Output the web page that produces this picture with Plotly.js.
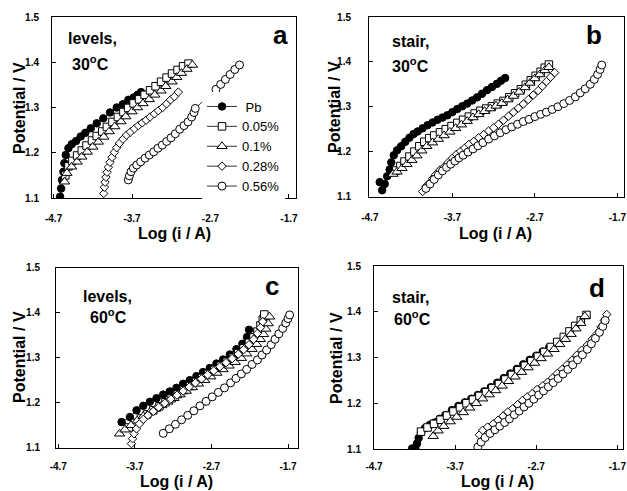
<!DOCTYPE html>
<html><head><meta charset="utf-8">
<script src="https://cdn.plot.ly/plotly-3.0.1.min.js"></script>
<style>html,body{margin:0;padding:0;background:#fff}#chart{width:627px;height:491px}</style>
</head><body><div id="chart"></div>
<script>
// ---------- shared labels ----------
const seriesNames = ['\u00a0Pb', '0.05%', '0.1%', '0.28%', '0.56%'];
const xTickVals = [-4.7, -3.7, -2.7, -1.7];
const xTickText = ['-4.7', '-3.7', '-2.7', '-1.7'];
const yTickVals = [1.1, 1.2, 1.3, 1.4, 1.5];
const yTickText = ['1.1', '1.2', '1.3', '1.4', '1.5'];
const xTitle = 'Log (i / A)';
const yTitle = 'Potential / V';
const panelLetters = ['a', 'b', 'c', 'd'];
const panelMode = ['levels,', 'stair,', 'levels,', 'stair,'];
const panelTemp = ['30<sup>o</sup>C', '30<sup>o</sup>C', '60<sup>o</sup>C', '60<sup>o</sup>C'];

// ---------- panel a : levels, 30 C ----------
const aPbX = [-4.617,-4.604,-4.592,-4.575,-4.562,-4.545,-4.511,-4.468,-4.413,-4.354,-4.295,-4.226,-4.150,-4.066,-3.980,-3.895,-3.818,-3.747,-3.680,-3.630,-3.585];
const aPbY = [1.103,1.121,1.140,1.158,1.177,1.195,1.210,1.219,1.226,1.236,1.244,1.254,1.265,1.276,1.289,1.300,1.307,1.317,1.322,1.328,1.334];
const a005X = [-4.55,-4.51,-4.46,-4.40,-4.34,-4.28,-4.21,-4.15,-4.08,-4.02,-3.95,-3.88,-3.81,-3.75,-3.68,-3.61,-3.54,-3.47,-3.40,-3.33,-3.26,-3.19,-3.12,-3.05,-2.98];
const a005Y = [1.150,1.170,1.182,1.194,1.205,1.216,1.227,1.237,1.247,1.257,1.268,1.279,1.290,1.299,1.309,1.318,1.328,1.338,1.347,1.357,1.366,1.375,1.383,1.391,1.397];
const a01X = [-4.56,-4.53,-4.47,-4.40,-4.34,-4.27,-4.20,-4.13,-4.06,-3.99,-3.92,-3.84,-3.78,-3.70,-3.63,-3.56,-3.48,-3.41,-3.33,-3.27,-3.19,-3.13,-3.07,-3.00,-2.93];
const a01Y = [1.136,1.155,1.169,1.180,1.191,1.202,1.213,1.224,1.235,1.247,1.258,1.269,1.280,1.291,1.300,1.309,1.318,1.328,1.337,1.347,1.357,1.367,1.376,1.385,1.394];
const a028X = [-4.061,-4.052,-4.044,-4.032,-4.019,-4.002,-3.981,-3.955,-3.925,-3.896,-3.860,-3.815,-3.770,-3.720,-3.670,-3.620,-3.570,-3.520,-3.470,-3.415,-3.365,-3.310,-3.260,-3.210,-3.160,-3.110];
const a028Y = [1.110,1.124,1.135,1.146,1.157,1.168,1.179,1.190,1.201,1.211,1.221,1.230,1.239,1.246,1.253,1.260,1.266,1.272,1.279,1.286,1.293,1.300,1.308,1.317,1.324,1.334];
const a056X = [-3.747,-3.734,-3.713,-3.683,-3.640,-3.590,-3.534,-3.480,-3.424,-3.370,-3.314,-3.258,-3.203,-3.148,-3.092,-3.038,-2.987,-2.940,-2.910,-2.894,-2.63,-2.57,-2.51,-2.45,-2.39,-2.33];
const a056Y = [1.140,1.149,1.158,1.166,1.173,1.180,1.188,1.195,1.202,1.210,1.217,1.225,1.233,1.242,1.252,1.260,1.268,1.279,1.289,1.298,1.340,1.351,1.362,1.373,1.384,1.394];

// ---------- panel b : stair, 30 C ----------
const bPbX = [-4.58,-4.55,-4.52,-4.49,-4.46,-4.44,-4.41,-4.37,-4.32,-4.27,-4.22,-4.17,-4.12,-4.06,-4.00,-3.94,-3.88,-3.82,-3.76,-3.70,-3.64,-3.58,-3.52,-3.46,-3.40,-3.34,-3.28,-3.22,-3.16,-3.11,-3.06];
const bPbY = [1.132,1.114,1.128,1.145,1.160,1.176,1.192,1.203,1.212,1.222,1.231,1.239,1.245,1.252,1.259,1.265,1.271,1.276,1.281,1.288,1.295,1.301,1.307,1.314,1.321,1.329,1.337,1.344,1.351,1.358,1.364];
const b005X = [-4.38,-4.33,-4.28,-4.22,-4.16,-4.10,-4.04,-3.98,-3.92,-3.85,-3.78,-3.71,-3.64,-3.57,-3.50,-3.43,-3.36,-3.29,-3.22,-3.15,-3.08,-3.01,-2.94,-2.87,-2.81,-2.75,-2.69,-2.63,-2.58,-2.53];
const b005Y = [1.158,1.168,1.178,1.189,1.200,1.212,1.222,1.230,1.236,1.243,1.250,1.257,1.264,1.271,1.278,1.285,1.291,1.296,1.301,1.307,1.313,1.321,1.330,1.339,1.349,1.359,1.369,1.378,1.387,1.394];
const b01X = [-4.42,-4.37,-4.31,-4.25,-4.19,-4.13,-4.07,-4.01,-3.94,-3.87,-3.80,-3.73,-3.66,-3.59,-3.52,-3.45,-3.38,-3.31,-3.24,-3.17,-3.10,-3.03,-2.96,-2.89,-2.82,-2.76,-2.70,-2.64,-2.58,-2.53];
const b01Y = [1.150,1.155,1.163,1.172,1.181,1.191,1.202,1.212,1.220,1.228,1.236,1.244,1.252,1.260,1.268,1.276,1.283,1.290,1.296,1.302,1.308,1.316,1.324,1.333,1.343,1.353,1.363,1.372,1.381,1.388];
const b028X = [-4.06,-4.02,-3.98,-3.94,-3.90,-3.85,-3.80,-3.75,-3.70,-3.65,-3.60,-3.55,-3.50,-3.44,-3.38,-3.32,-3.26,-3.20,-3.14,-3.08,-3.02,-2.96,-2.90,-2.84,-2.78,-2.72,-2.66,-2.61,-2.56,-2.51,-2.46];
const b028Y = [1.111,1.122,1.129,1.140,1.149,1.159,1.166,1.176,1.185,1.194,1.201,1.208,1.216,1.223,1.231,1.238,1.246,1.253,1.261,1.270,1.279,1.288,1.297,1.306,1.316,1.326,1.336,1.346,1.356,1.366,1.376];
const b056X = [-4.02,-3.97,-3.92,-3.87,-3.82,-3.77,-3.72,-3.67,-3.62,-3.57,-3.51,-3.45,-3.39,-3.33,-3.26,-3.19,-3.12,-3.05,-2.98,-2.91,-2.84,-2.77,-2.70,-2.63,-2.56,-2.49,-2.42,-2.35,-2.28,-2.21,-2.15,-2.09,-2.03,-1.98,-1.94,-1.91,-1.89];
const b056Y = [1.118,1.128,1.138,1.148,1.157,1.165,1.172,1.179,1.186,1.192,1.199,1.206,1.213,1.220,1.228,1.235,1.242,1.249,1.255,1.261,1.267,1.272,1.278,1.283,1.288,1.294,1.300,1.307,1.314,1.322,1.331,1.340,1.350,1.361,1.372,1.383,1.393];

// ---------- panel c : levels, 60 C ----------
const cPbX = [-3.873,-3.765,-3.678,-3.590,-3.504,-3.417,-3.330,-3.244,-3.157,-3.070,-2.983,-2.896,-2.810,-2.722,-2.635,-2.548,-2.460,-2.374,-2.296,-2.236,-2.210];
const cPbY = [1.157,1.168,1.183,1.193,1.202,1.210,1.218,1.225,1.233,1.242,1.250,1.259,1.268,1.277,1.287,1.296,1.307,1.319,1.331,1.346,1.362];
const c005X = [-3.78,-3.70,-3.62,-3.54,-3.46,-3.38,-3.30,-3.22,-3.14,-3.06,-2.98,-2.90,-2.82,-2.74,-2.66,-2.58,-2.50,-2.42,-2.35,-2.28,-2.21,-2.15,-2.10,-2.06,-2.03,-2.01];
const c005Y = [1.145,1.155,1.165,1.174,1.183,1.192,1.201,1.210,1.219,1.228,1.237,1.246,1.255,1.264,1.273,1.282,1.291,1.300,1.310,1.321,1.333,1.345,1.358,1.372,1.385,1.396];
const c01X = [-3.90,-3.83,-3.75,-3.67,-3.59,-3.51,-3.43,-3.35,-3.27,-3.19,-3.11,-3.03,-2.95,-2.87,-2.79,-2.71,-2.63,-2.55,-2.47,-2.39,-2.31,-2.24,-2.17,-2.11,-2.06,-2.02,-1.99,-1.96,-1.94];
const c01Y = [1.131,1.140,1.150,1.160,1.170,1.178,1.186,1.194,1.202,1.210,1.218,1.226,1.234,1.242,1.250,1.258,1.266,1.274,1.282,1.290,1.299,1.309,1.319,1.330,1.341,1.352,1.364,1.376,1.391];
const c028X = [-3.745,-3.73,-3.71,-3.68,-3.64,-3.59,-3.53,-3.46,-3.39,-3.31,-3.23,-3.15,-3.07,-2.99,-2.91,-2.83,-2.75,-2.67,-2.59,-2.51,-2.43,-2.35,-2.28,-2.21,-2.15,-2.10,-2.06,-2.03];
const c028Y = [1.109,1.120,1.131,1.142,1.153,1.163,1.172,1.181,1.190,1.199,1.208,1.217,1.226,1.235,1.244,1.253,1.262,1.271,1.280,1.289,1.298,1.308,1.318,1.329,1.341,1.354,1.367,1.380];
const c056X = [-3.33,-3.25,-3.17,-3.09,-3.01,-2.93,-2.85,-2.77,-2.69,-2.61,-2.53,-2.45,-2.38,-2.31,-2.24,-2.17,-2.10,-2.04,-1.98,-1.92,-1.87,-1.82,-1.77,-1.73,-1.70,-1.68];
const c056Y = [1.132,1.142,1.152,1.162,1.172,1.182,1.193,1.203,1.213,1.223,1.233,1.244,1.254,1.264,1.274,1.285,1.295,1.306,1.317,1.329,1.341,1.353,1.365,1.377,1.387,1.395];

// ---------- panel d : stair, 60 C ----------
const dPbX = [-4.23,-4.19,-4.17,-4.15,-4.12,-4.07,-4.01,-3.95,-3.89,-3.82,-3.74,-3.66,-3.58,-3.50,-3.42,-3.34,-3.26,-3.18,-3.10,-3.02,-2.94,-2.86,-2.78,-2.70,-2.62,-2.54];
const dPbY = [1.101,1.102,1.112,1.124,1.136,1.146,1.153,1.158,1.166,1.174,1.185,1.194,1.202,1.210,1.218,1.226,1.235,1.245,1.255,1.265,1.275,1.285,1.295,1.304,1.313,1.322];
const d005X = [-4.12,-4.04,-3.96,-3.88,-3.80,-3.72,-3.64,-3.56,-3.48,-3.40,-3.32,-3.24,-3.16,-3.08,-3.00,-2.92,-2.84,-2.76,-2.68,-2.60,-2.52,-2.44,-2.36,-2.29,-2.22,-2.15,-2.08];
const d005Y = [1.138,1.147,1.155,1.164,1.173,1.182,1.191,1.200,1.208,1.216,1.224,1.233,1.242,1.252,1.262,1.272,1.282,1.292,1.302,1.312,1.323,1.334,1.345,1.357,1.369,1.381,1.393];
const d01X = [-3.97,-3.91,-3.84,-3.76,-3.68,-3.60,-3.52,-3.44,-3.36,-3.28,-3.20,-3.12,-3.04,-2.96,-2.88,-2.80,-2.72,-2.64,-2.56,-2.48,-2.41,-2.34,-2.27,-2.21,-2.15,-2.10];
const d01Y = [1.128,1.140,1.150,1.160,1.170,1.180,1.190,1.200,1.210,1.219,1.228,1.238,1.248,1.258,1.268,1.278,1.288,1.298,1.308,1.318,1.329,1.340,1.351,1.363,1.375,1.390];
const d028X = [-3.40,-3.36,-3.30,-3.23,-3.17,-3.11,-3.05,-2.99,-2.93,-2.87,-2.81,-2.75,-2.69,-2.62,-2.56,-2.50,-2.44,-2.38,-2.32,-2.26,-2.20,-2.14,-2.07,-2.01,-1.95,-1.90,-1.86,-1.83];
const d028Y = [1.131,1.141,1.148,1.155,1.163,1.172,1.181,1.188,1.197,1.206,1.214,1.221,1.230,1.238,1.246,1.255,1.265,1.274,1.284,1.294,1.305,1.316,1.327,1.340,1.352,1.367,1.381,1.394];
const d056X = [-3.42,-3.38,-3.33,-3.27,-3.21,-3.15,-3.09,-3.03,-2.97,-2.91,-2.85,-2.79,-2.73,-2.67,-2.61,-2.55,-2.49,-2.43,-2.37,-2.31,-2.25,-2.19,-2.13,-2.07,-2.02,-1.97,-1.92,-1.88,-1.85];
const d056Y = [1.104,1.115,1.125,1.134,1.142,1.150,1.158,1.166,1.175,1.183,1.192,1.200,1.209,1.218,1.227,1.236,1.245,1.254,1.264,1.274,1.284,1.295,1.306,1.318,1.330,1.342,1.355,1.368,1.381];

// ---------- styling ----------
const W = 627, H = 491;
const FONT = 'Arial, "Liberation Sans", sans-serif';
const symbols = ['circle', 'square', 'triangle-up', 'diamond', 'circle'];
const fills = ['black', 'white', 'white', 'white', 'white'];
const msizes = [7.5, 7.5, 9, 6.5, 8];

const panels = [
  {xs: [aPbX, a005X, a01X, a028X, a056X], ys: [aPbY, a005Y, a01Y, a028Y, a056Y], xa: 'x', ya: 'y', leg: true},
  {xs: [bPbX, b005X, b01X, b028X, b056X], ys: [bPbY, b005Y, b01Y, b028Y, b056Y], xa: 'x2', ya: 'y2', leg: false},
  {xs: [cPbX, c005X, c01X, c028X, c056X], ys: [cPbY, c005Y, c01Y, c028Y, c056Y], xa: 'x3', ya: 'y3', leg: false},
  {xs: [dPbX, d005X, d01X, d028X, d056X], ys: [dPbY, d005Y, d01Y, d028Y, d056Y], xa: 'x4', ya: 'y4', leg: false}
];

const traces = [];
panels.forEach(p => {
  for (let i = 0; i < 5; i++) {
    traces.push({
      type: 'scatter', mode: 'lines+markers',
      x: p.xs[i], y: p.ys[i], xaxis: p.xa, yaxis: p.ya,
      name: seriesNames[i], showlegend: p.leg,
      line: {color: 'black', width: 0.8},
      marker: {symbol: symbols[i], size: msizes[i], color: fills[i], line: {color: 'black', width: 1}}
    });
  }
});

// pixel boxes of the four plot areas [left, right, top, bottom]
const boxes = [[52, 296, 17, 198], [369, 624, 17, 196.5], [56, 298, 267.7, 447.7], [374, 623, 266, 449]];
const xRanges = [[-4.72, -1.61], [-4.71, -1.62], [-4.73, -1.57], [-4.70, -1.63]];
const yStand = [10, 15, 13, 10];
const xStand = [11, 11, 9, 8];

function px(x) { return x / W; }
function py(y) { return 1 - y / H; }

const layout = {
  width: W, height: H, margin: {l: 0, r: 0, t: 0, b: 0},
  paper_bgcolor: 'white', plot_bgcolor: 'white', showlegend: true,
  font: {family: FONT, color: 'black'},
  legend: {x: px(202), y: py(91.5), xanchor: 'left', yanchor: 'top', bgcolor: 'white', borderwidth: 0,
           font: {family: FONT, size: 13, color: 'black'}, tracegroupgap: 0, itemwidth: 30},
  annotations: [], hovermode: false
};

const tickFont = {family: FONT, size: 10, color: 'black', weight: 'bold'};
boxes.forEach((b, k) => {
  const s = k === 0 ? '' : String(k + 1);
  layout['xaxis' + s] = {
    domain: [px(b[0]), px(b[1])], range: xRanges[k], anchor: 'y' + s,
    showgrid: false, zeroline: false, showline: true, linecolor: 'black', linewidth: 1, mirror: true,
    ticks: 'inside', ticklen: 4, tickcolor: 'black', tickvals: xTickVals, ticktext: xTickText,
    tickfont: tickFont, ticklabelstandoff: xStand[k], ticklabeloverflow: 'allow', fixedrange: true
  };
  layout['yaxis' + s] = {
    domain: [py(b[3]), py(b[2])], range: [1.1, 1.5], anchor: 'x' + s,
    showgrid: false, zeroline: false, showline: true, linecolor: 'black', linewidth: 1, mirror: true,
    ticks: 'inside', ticklen: 4, tickcolor: 'black', tickvals: yTickVals, ticktext: yTickText,
    tickfont: tickFont, ticklabelstandoff: yStand[k], ticklabeloverflow: 'allow', fixedrange: true
  };
});

// text positions (pixels)
const xTitlePos = [[174, 233], [495, 233], [176, 481], [497, 481]];
const yTitlePos = [[20, 108], [334, 107], [19, 357], [336, 358]];
const modePos = [[92, 38], [410, 41], [107, 296], [410, 297]];
const tempPos = [[90, 63], [410, 65], [108, 316], [412, 318]];
const letterPos = [[280, 35], [594, 35], [272, 286], [597, 288]];

const bold16 = {family: FONT, size: 16, color: 'black', weight: 'bold'};
for (let k = 0; k < 4; k++) {
  layout.annotations.push({xref: 'paper', yref: 'paper', x: px(xTitlePos[k][0]), y: py(xTitlePos[k][1]),
    text: xTitle, showarrow: false, xanchor: 'center', yanchor: 'middle', font: bold16});
  layout.annotations.push({xref: 'paper', yref: 'paper', x: px(yTitlePos[k][0]), y: py(yTitlePos[k][1]),
    text: yTitle, showarrow: false, textangle: -90, xanchor: 'center', yanchor: 'middle', font: bold16});
  layout.annotations.push({xref: 'paper', yref: 'paper', x: px(modePos[k][0]), y: py(modePos[k][1]),
    text: panelMode[k], showarrow: false, xanchor: 'center', yanchor: 'middle', font: bold16});
  layout.annotations.push({xref: 'paper', yref: 'paper', x: px(tempPos[k][0]), y: py(tempPos[k][1]),
    text: panelTemp[k], showarrow: false, xanchor: 'center', yanchor: 'middle', font: bold16});
  layout.annotations.push({xref: 'paper', yref: 'paper', x: px(letterPos[k][0]), y: py(letterPos[k][1]),
    text: panelLetters[k], showarrow: false, xanchor: 'center', yanchor: 'middle',
    font: {family: FONT, size: 26, color: 'black', weight: 'bold'}});
}

Plotly.newPlot('chart', traces, layout, {staticPlot: true, displayModeBar: false});
</script></body></html>
